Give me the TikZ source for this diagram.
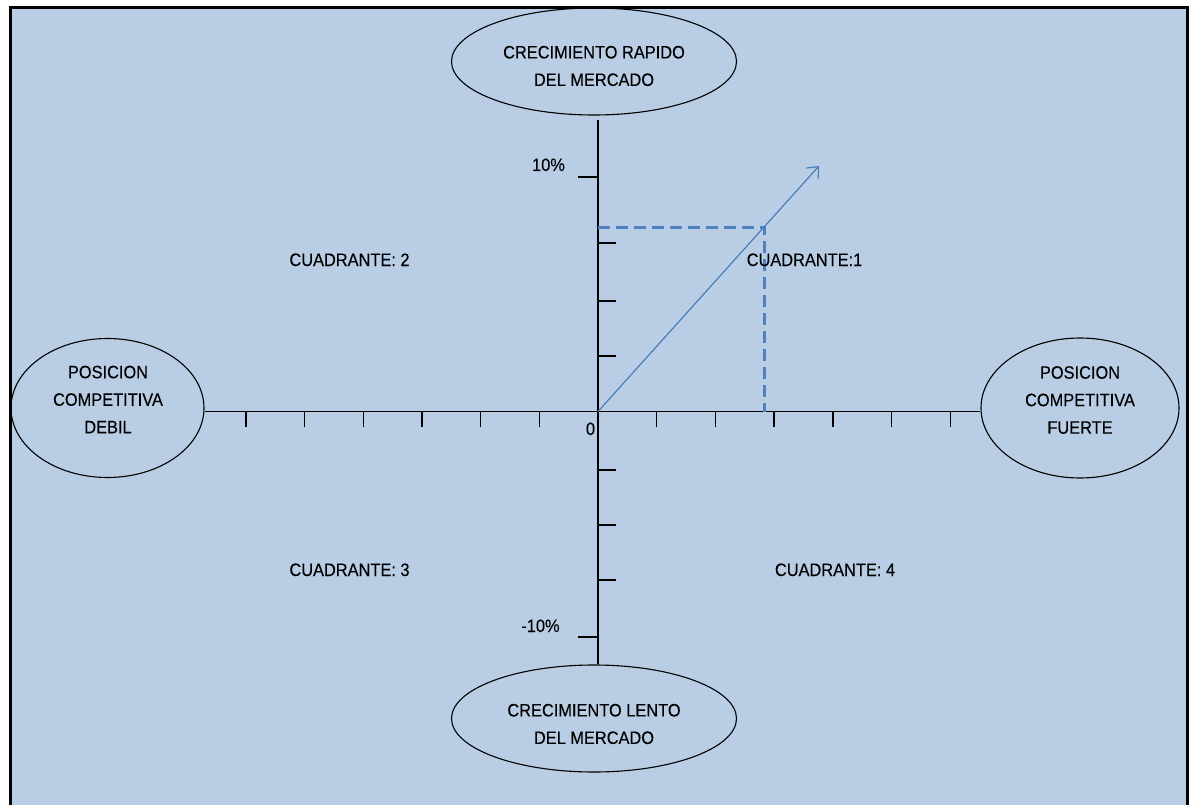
\documentclass[tikz,border=0pt]{standalone}
\usepackage{fontspec}
\setmainfont{Liberation Sans}[FakeStretch=0.91,FakeBold=0.15]
\usetikzlibrary{shapes.geometric,arrows.meta,calc}
\definecolor{bgblue}{HTML}{B9CDE5}
\definecolor{guideblue}{HTML}{4F81BD}
\definecolor{vecblue}{HTML}{4A7EBB}
\begin{document}
\begin{tikzpicture}[x=1pt,y=-1pt,
  oval/.style={ellipse,draw=black,line width=1.1pt,inner sep=0pt},
  lbl/.style={font=\fontsize{18}{27.5}\selectfont,inner sep=0pt,align=center,text=black},
  axisline/.style={black,line width=1.4pt},
  tickline/.style={black,line width=1.4pt},
  guide/.style={guideblue,line width=3pt,dash pattern=on 12pt off 6pt},
  vec/.style={vecblue,line width=1.2pt,-{Straight Barb[length=9pt,width=16pt,line width=1.2pt]}}]
\useasboundingbox (0,0) rectangle (1189,805);
\fill[white] (0,0) rectangle (1189,805);
\draw[black,line width=3pt,fill=bgblue] (10,7.3) rectangle (1187.5,830);

% ellipses
\node[oval,minimum width=285pt,minimum height=107pt] (top) at (594,61.5) {};
\node[oval,minimum width=285pt,minimum height=107pt] (bot) at (594,718.5) {};
\node[oval,minimum width=193pt,minimum height=139pt] (lft) at (107.5,408) {};
\node[oval,minimum width=198pt,minimum height=140pt] (rgt) at (1080,408) {};

\node[lbl] (topT) at (594,66) {CRECIMIENTO RAPIDO\\DEL MERCADO};
\node[lbl] (botT) at (594,724) {CRECIMIENTO LENTO\\DEL MERCADO};
\node[lbl] (lftT) at (108,399.5) {POSICION\\COMPETITIVA\\DEBIL};
\node[lbl] (rgtT) at (1080,400) {POSICION\\COMPETITIVA\\FUERTE};

% axes
\coordinate (O) at (598,411.5);
\coordinate (vtop) at (598,120);
\draw[axisline] (lft.east |- O) -- (rgt.west |- O);
\draw[axisline] (vtop) -- (O |- bot.north);

% horizontal ticks
\foreach \k in {1,...,6} {
  \draw[tickline] ($(O)+(-58.7*\k,0)$) -- ++(0,15);
  \draw[tickline] ($(O)+(58.7*\k,0)$) -- ++(0,15);
}
% vertical ticks
\foreach \yy in {356,301,243,470,525,580} {
  \draw[tickline] (598,\yy) -- ++(18,0);
}
\draw[tickline] (598,177) -- ++(-20,0);
\draw[tickline] (598,637) -- ++(-20,0);

% guide and vector
\coordinate (P) at (764,227.2);
\coordinate (tip) at (819,166);
\draw[guide] (O |- P) -- (P) -- (P |- O);
\draw[vec] (O) -- (tip);

% labels
\node[lbl,anchor=base] (p10) at (548.5,171) {10\%};
\node[lbl,anchor=base] (m10) at (540.5,632) {-10\%};
\node[lbl,anchor=base] (zero) at (590.5,435) {0};
\node[lbl,anchor=base] (q2) at (349.5,266) {CUADRANTE: 2};
\node[lbl,anchor=base] (q1) at (804.5,266) {CUADRANTE:1};
\node[lbl,anchor=base] (q3) at (349.5,576) {CUADRANTE: 3};
\node[lbl,anchor=base] (q4) at (835,576) {CUADRANTE: 4};
\end{tikzpicture}
\end{document}
